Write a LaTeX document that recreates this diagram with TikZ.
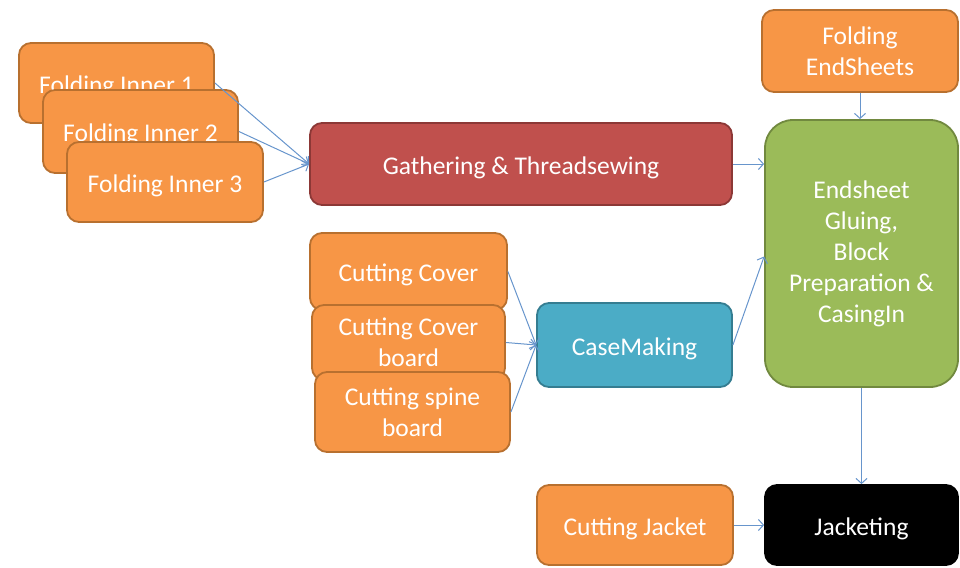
\documentclass[tikz,border=0pt]{standalone}
\usepackage{fontspec}
\setmainfont{Carlito}
\usetikzlibrary{arrows.meta}
\definecolor{orfill}{HTML}{F79646}
\definecolor{ordraw}{HTML}{B8702F}
\definecolor{redfill}{HTML}{C0504D}
\definecolor{reddraw}{HTML}{8C3836}
\definecolor{cyfill}{HTML}{4BACC6}
\definecolor{cydraw}{HTML}{357D91}
\definecolor{grfill}{HTML}{9BBB59}
\definecolor{grdraw}{HTML}{71893F}
\definecolor{arrowc}{HTML}{6795CC}
\tikzset{
  box/.style={rounded corners=12pt, line width=1.8pt, align=center, text=white,
    font=\fontsize{25.5}{31}\selectfont, inner sep=0pt,
    execute at begin node={\rule{0pt}{25pt}}},
  multi/.style={execute at begin node={\rule{0pt}{29pt}}},
  orangebox/.style={box, fill=orfill, draw=ordraw},
  redbox/.style={box, fill=redfill, draw=reddraw},
  cybox/.style={box, fill=cyfill, draw=cydraw},
  grbox/.style={box, fill=grfill, draw=grdraw, rounded corners=28pt},
  blackbox/.style={box, fill=black, draw=black},
  flow/.style={draw=arrowc, line width=1pt, -{Straight Barb[length=5pt,width=11pt]}},
}
\begin{document}
\begin{tikzpicture}[x=1pt,y=-1pt]
\useasboundingbox (0,0) rectangle (960,567);
\node[orangebox, minimum width=195pt, minimum height=80pt] (fi1) at (116.5,83) {Folding Inner 1};
\node[orangebox, minimum width=195pt, minimum height=83pt] (fi2) at (140.5,131.5) {Folding Inner 2};
\node[orangebox, minimum width=196pt, minimum height=80pt] (fi3) at (165,182) {Folding Inner 3};
\node[redbox, minimum width=422pt, minimum height=82pt] (gath) at (521,164) {Gathering \& Threadsewing};
\node[orangebox, minimum width=197pt, minimum height=77pt] (cc) at (408.5,271.5) {Cutting Cover};
\node[orangebox, multi, minimum width=193pt, minimum height=75pt] (ccb) at (408.5,342.5) {Cutting Cover\\board};
\node[orangebox, multi, minimum width=195pt, minimum height=80pt] (csb) at (412.5,412) {Cutting spine\\board};
\node[cybox, minimum width=195pt, minimum height=84pt] (cm) at (634.5,345) {CaseMaking};
\node[orangebox, multi, minimum width=196pt, minimum height=82pt] (fes) at (860,51) {Folding\\EndSheets};
\node[grbox, multi, minimum width=193pt, minimum height=267pt] (glue) at (861.5,253.5) {Endsheet\\Gluing,\\Block\\Preparation \&\\CasingIn};
\node[orangebox, minimum width=196pt, minimum height=80pt] (cj) at (635,525) {Cutting Jacket};
\node[blackbox, minimum width=193pt, minimum height=80pt] (jack) at (861.5,525) {Jacketing};
\draw[flow] (fi1.east) -- (gath.west);
\draw[flow] (fi2.east) -- (gath.west);
\draw[flow] (fi3.east) -- (gath.west);
\draw[flow] (gath.east) -- (gath.east -| glue.west);
\draw[flow] (fes.south) -- (fes.south |- glue.north);
\draw[flow] (cc.east) -- (cm.west);
\draw[flow] (ccb.east) -- (cm.west);
\draw[flow] (csb.east) -- (cm.west);
\draw[flow] (cm.east) -- ([yshift=-3pt]glue.west);
\draw[flow] (glue.south) -- (glue.south |- jack.north);
\draw[flow] (cj.east) -- (jack.west);
\end{tikzpicture}
\end{document}
